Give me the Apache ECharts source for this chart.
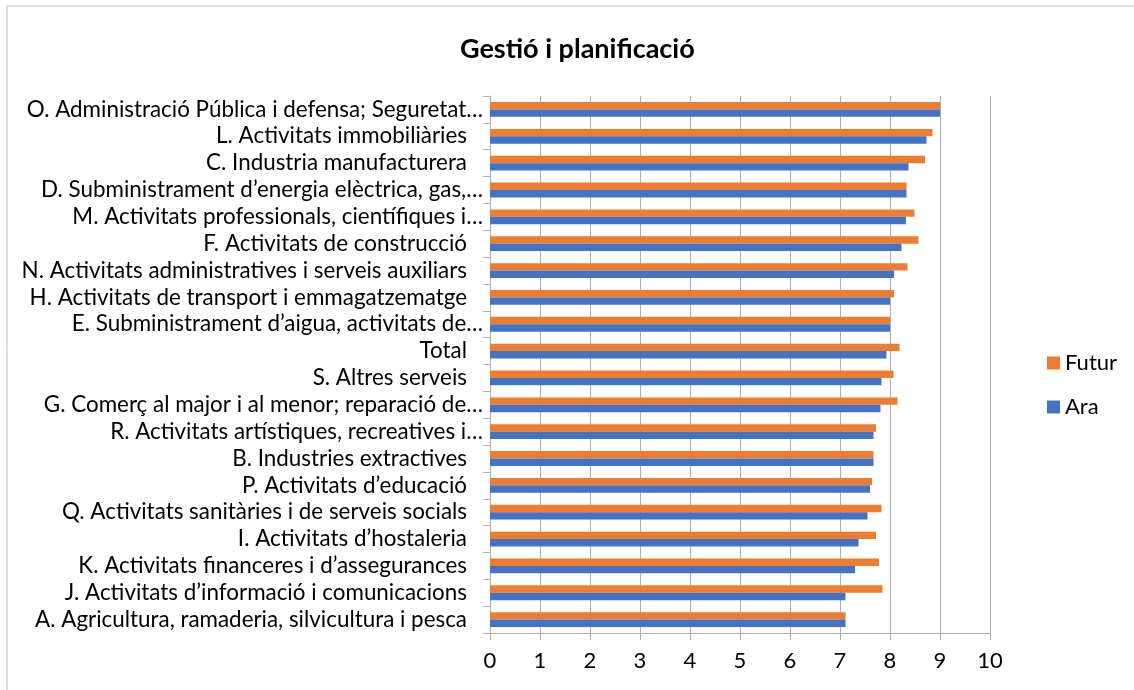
<!DOCTYPE html>
<html>
<head>
<meta charset="utf-8">
<script src="https://cdn.jsdelivr.net/npm/echarts@6/dist/echarts.min.js"></script>
<style>
  html, body { margin: 0; padding: 0; background: #fff; }
  #main { width: 1134px; height: 690px; }
</style>
</head>
<body>
<div id="main"></div>
<script>
// categories from top to bottom, as in the picture
var categories = [
  'O. Administració Pública i defensa; Seguretat…',
  'L. Activitats immobiliàries',
  'C. Industria manufacturera',
  'D. Subministrament d’energia elèctrica, gas,…',
  'M. Activitats professionals, científiques i…',
  'F. Activitats de construcció',
  'N. Activitats administratives i serveis auxiliars',
  'H. Activitats de transport i emmagatzematge',
  'E. Subministrament d’aigua, activitats de…',
  'Total',
  'S. Altres serveis',
  'G. Comerç al major i al menor; reparació de…',
  'R. Activitats artístiques, recreatives i…',
  'B. Industries extractives',
  'P. Activitats d’educació',
  'Q. Activitats sanitàries i de serveis socials',
  'I. Activitats d’hostaleria',
  'K. Activitats financeres i d’assegurances',
  'J. Activitats d’informació i comunicacions',
  'A. Agricultura, ramaderia, silvicultura i pesca'
];
var futur = [9.0, 8.85, 8.70, 8.33, 8.49, 8.57, 8.35, 8.08, 8.0, 8.19,
             8.07, 8.15, 7.72, 7.67, 7.64, 7.83, 7.72, 7.78, 7.85, 7.11];
var ara   = [9.0, 8.73, 8.37, 8.33, 8.32, 8.23, 8.08, 8.0, 8.0, 7.93,
             7.83, 7.81, 7.67, 7.67, 7.60, 7.55, 7.37, 7.30, 7.11, 7.11];
var xTicks = [0, 10, 1]; // min, max, interval

var font = 'Lato';
var chart = echarts.init(document.getElementById('main'));

chart.setOption({
  animation: false,
  backgroundColor: '#fff',
  graphic: [{
    type: 'rect',
    shape: { x: 7, y: 6, width: 1200, height: 800 },
    style: { fill: 'none', stroke: '#bfbfbf', lineWidth: 1 },
    silent: true
  }],
  title: {
    text: 'Gestió i planificació',
    left: 455,
    top: 31,
    textStyle: { fontFamily: font, fontSize: 27, fontWeight: 'bold', color: '#000' }
  },
  legend: {
    data: ['Futur', 'Ara'],
    orient: 'vertical',
    left: 1042,
    top: 346,
    itemWidth: 13,
    itemHeight: 13,
    itemGap: 20,
    icon: 'rect',
    textStyle: { fontFamily: font, fontSize: 22, color: '#000', lineHeight: 24 }
  },
  grid: { left: 490, right: 144, top: 96, bottom: 57, containLabel: false },
  xAxis: {
    type: 'value',
    min: xTicks[0],
    max: xTicks[1],
    interval: xTicks[2],
    axisLine: { show: true, lineStyle: { color: '#b0b0b0', width: 1 } },
    axisTick: { show: true, length: 7, lineStyle: { color: '#b0b0b0' } },
    splitLine: { show: true, lineStyle: { color: '#b0b0b0', width: 1 } },
    axisLabel: { fontFamily: font, fontSize: 22, color: '#000', margin: 17 }
  },
  yAxis: {
    type: 'category',
    data: categories,
    inverse: true,
    axisLine: { show: true, lineStyle: { color: '#b0b0b0', width: 1 } },
    axisTick: { show: true, length: 7, lineStyle: { color: '#b0b0b0' } },
    axisLabel: {
      interval: 0,
      fontFamily: font, fontSize: 22.4, color: '#000', margin: 7,
      formatter: function (v) {
        return v.slice(-1) === '…' ? v : '{p|' + v + '}';
      },
      rich: { p: { fontFamily: font, fontSize: 22.4, color: '#000', padding: [0, 16, 0, 0] } }
    }
  },
  series: [
    {
      name: 'Futur', type: 'bar', data: futur,
      barWidth: 7.4, barGap: '0%',
      itemStyle: { color: '#ED7D31' }
    },
    {
      name: 'Ara', type: 'bar', data: ara,
      barWidth: 7.4, barGap: '0%',
      itemStyle: { color: '#4472C4' }
    }
  ]
});
</script>
</body>
</html>
